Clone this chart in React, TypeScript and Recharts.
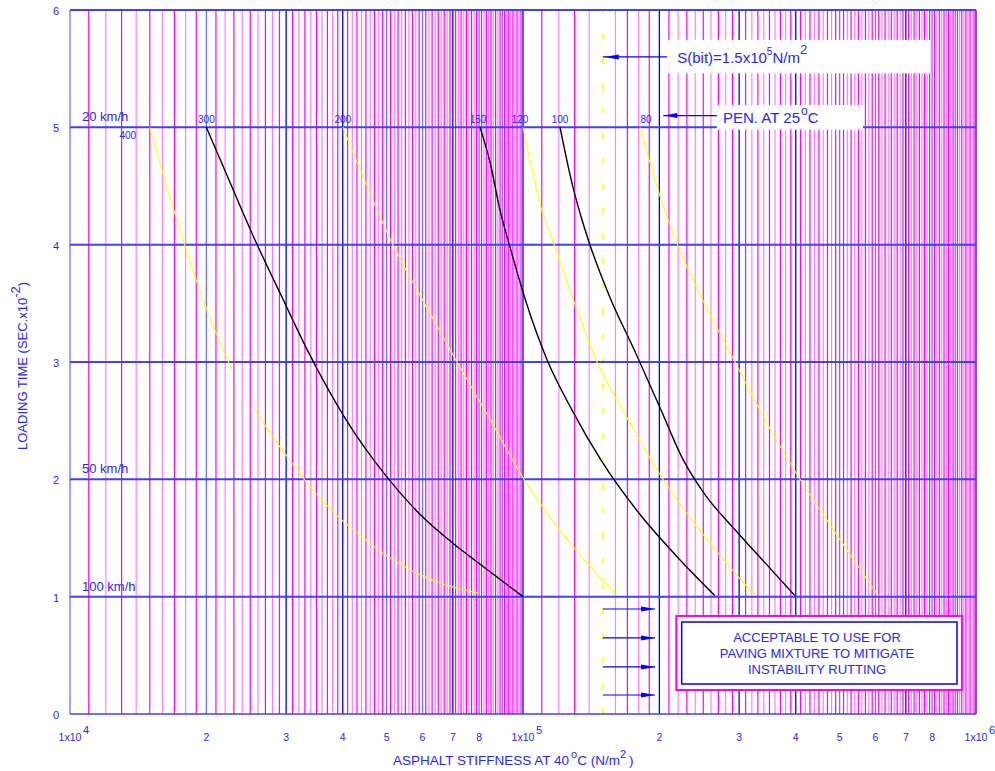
import React from "react"
import { ComposedChart, Line, XAxis, YAxis, ReferenceLine, ReferenceArea, ReferenceDot } from "recharts"

const FONT = '"Liberation Sans", Arial, Helvetica, sans-serif'
const TEXT_BLUE = "#2626ff"
const GRID_BLUE = "#0000ff"
const GRID_BLUE_LIGHT = "#7373ff"
const H_BLUE = "#3f3fff"
const MAGENTA = "#ff00ff"
const PINK = "#ff80ff"
const YELLOW = "#ffff00"

type Row = [number, number]

// stiffness (N/m2) vs loading time (sec x 10^-2) for each penetration grade
const pen400Upper: Row[] = [[1.5e4, 5.0], [1.75e4, 4.12], [1.98e4, 3.5], [2.28e4, 2.93]]
const pen400Lower: Row[] = [
  [2.51e4, 2.65], [2.76e4, 2.4], [3.06e4, 2.16], [3.47e4, 1.89], [3.94e4, 1.67],
  [4.47e4, 1.49], [5.04e4, 1.34], [5.63e4, 1.23], [6.65e4, 1.11], [7.96e4, 1.03],
]
const pen300: Row[] = [
  [2.0e4, 5.0], [2.256e4, 4.53], [2.561e4, 4.04], [2.94e4, 3.55], [3.353e4, 3.09], [4.05e4, 2.52],
  [4.96e4, 2.04], [5.93e4, 1.7], [7.08e4, 1.44], [7.83e4, 1.31], [1.0e5, 1.0],
]
const pen200: Row[] = [
  [4.0e4, 5.0], [4.37e4, 4.64], [5.16e4, 4.0], [6.08e4, 3.49], [7.15e4, 3.0],
  [8.46e4, 2.51], [1.005e5, 2.0], [1.238e5, 1.51], [1.613e5, 1.01],
]
const pen150: Row[] = [
  [8.04e4, 5.0], [8.46e4, 4.7], [8.89e4, 4.3], [9.36e4, 3.98], [1.02e5, 3.49], [1.13e5, 3.02],
  [1.283e5, 2.59], [1.494e5, 2.15], [1.813e5, 1.7], [2.165e5, 1.36], [2.65e5, 1.01],
]
const pen120: Row[] = [
  [1.0e5, 5.0], [1.09e5, 4.35], [1.177e5, 3.98], [1.302e5, 3.49], [1.457e5, 3.0],
  [1.705e5, 2.51], [2.037e5, 2.0], [2.522e5, 1.51], [3.25e5, 1.01],
]
const pen100: Row[] = [
  [1.207e5, 5.0], [1.289e5, 4.49], [1.336e5, 4.27], [1.405e5, 4.0], [1.556e5, 3.55], [1.767e5, 3.09],
  [2.007e5, 2.61], [2.255e5, 2.17], [2.522e5, 1.87], [2.938e5, 1.57], [3.42e5, 1.29], [3.98e5, 1.01],
]
const pen80: Row[] = [
  [1.813e5, 5.0], [1.907e5, 4.7], [2.027e5, 4.36], [2.199e5, 3.99], [2.522e5, 3.49],
  [2.938e5, 3.0], [3.42e5, 2.51], [4.088e5, 2.0], [4.96e5, 1.51], [6.076e5, 1.01],
]

const curves = [
  { id: "400a", label: "400", color: YELLOW, width: 1.1, rows: pen400Upper, dx: -22, dy: 12 },
  { id: "400b", label: "", color: YELLOW, width: 1.1, rows: pen400Lower, dx: 0, dy: 0 },
  { id: "300", label: "300", color: "#000", width: 1.4, rows: pen300, dx: 0, dy: -4 },
  { id: "200", label: "200", color: YELLOW, width: 1.1, rows: pen200, dx: 0, dy: -4 },
  { id: "150", label: "150", color: "#000", width: 1.4, rows: pen150, dx: -2, dy: -4 },
  { id: "120", label: "120", color: YELLOW, width: 1.1, rows: pen120, dx: -3, dy: -4 },
  { id: "100", label: "100", color: "#000", width: 1.4, rows: pen100, dx: 0, dy: -4 },
  { id: "80", label: "80", color: YELLOW, width: 1.1, rows: pen80, dx: 6, dy: -4 },
]

const xTicks = [1e4, 2e4, 3e4, 4e4, 5e4, 6e4, 7e4, 8e4, 1e5, 2e5, 3e5, 4e5, 5e5, 6e5, 7e5, 8e5, 1e6]
const yTicks = [0, 1, 2, 3, 4, 5, 6]
const speedLabels = [
  { text: "20 km/h", y: 5 },
  { text: "50 km/h", y: 2 },
  { text: "100 km/h", y: 1 },
]
const SPEED_LABEL_X = 1.063e4
const S_BIT = 1.5e5

const boxText = ["ACCEPTABLE TO USE FOR", "PAVING MIXTURE TO MITIGATE", "INSTABILITY RUTTING"]
const boxTextY = [0.614, 0.477, 0.341]
const rightArrowY = [0.895, 0.648, 0.401, 0.162]

// log grid: tenths inside each decade, integer multiples in blue
const decades = [1e4, 1e5]
const minorGrid: { v: number; strong: boolean }[] = []
const majorGrid: { v: number; strong: boolean }[] = [
  { v: 1e4, strong: false }, { v: 1e5, strong: true }, { v: 1e6, strong: true },
]
decades.forEach((d, di) => {
  for (let t = 11; t < 100; t++) {
    const v = (d * t) / 10
    if (t % 10 === 0) {
      const m = t / 10
      majorGrid.push({ v, strong: [3, 4, 7].includes(m) || (di === 1 && m === 2) })
    } else if (v !== S_BIT) {
      minorGrid.push({ v, strong: t % 2 === 1 })
    }
  }
})

const toPts = (rows: Row[]) => rows.map(([x, y]) => ({ x, y }))

const XTick = (props: any) => {
  const { x, y, payload } = props
  const v = payload.value as number
  const exp = Math.round(Math.log10(v))
  const common = { fill: TEXT_BLUE, fontFamily: FONT }
  if (Math.abs(v - 10 ** exp) < 1e-6 * v) {
    return (
      <g>
        <text x={x} y={y + 27} textAnchor="middle" fontSize={10.5} {...common}>1x10</text>
        <text x={x + 16} y={y + 20} textAnchor="middle" fontSize={11} {...common}>{exp}</text>
      </g>
    )
  }
  const lead = Math.round(v / 10 ** Math.floor(Math.log10(v)))
  return <text x={x} y={y + 27} textAnchor="middle" fontSize={10.5} {...common}>{lead}</text>
}

const YTick = (props: any) => {
  const { x, y, payload } = props
  return (
    <text x={x - 14} y={y + 5} textAnchor="middle" fontSize={11} fill={TEXT_BLUE} fontFamily={FONT}>
      {payload.value}
    </text>
  )
}

const XTitle = (props: any) => {
  const vb = props.viewBox
  return (
    <text x={vb.x + 323} y={vb.y + 51} fontSize={13.5} fill={TEXT_BLUE} fontFamily={FONT}>
      ASPHALT STIFFNESS AT 40
      <tspan dx={2} dy={-7} fontSize={11}>o</tspan>
      <tspan dy={7}>C (N/m</tspan>
      <tspan dy={-7} fontSize={11}>2</tspan>
      <tspan dx={3} dy={7}>)</tspan>
    </text>
  )
}

const YTitle = (props: any) => {
  const vb = props.viewBox
  return (
    <text
      transform={`translate(${vb.x + 27},${vb.y + 440}) rotate(-90)`}
      fontSize={13}
      fill={TEXT_BLUE}
      fontFamily={FONT}
    >
      LOADING TIME (SEC.x10
      <tspan dy={-7} fontSize={13}>-2</tspan>
      <tspan dy={7}>)</tspan>
    </text>
  )
}

const ArrowHead = ({ cx, cy, dir }: { cx: number; cy: number; dir: 1 | -1 }) => (
  <polygon
    points={`${cx},${cy} ${cx - dir * 14},${cy - 2.5} ${cx - dir * 14},${cy + 2.5}`}
    fill={GRID_BLUE}
  />
)

export default function App() {
  return (
    <div style={{ position: "absolute", left: 0, top: 0, background: "#fff" }}>
      <ComposedChart width={995} height={771} margin={{ top: 10, right: 19, bottom: 0, left: 0 }}>
        <XAxis
          type="number"
          dataKey="x"
          scale="log"
          domain={[1e4, 1e6]}
          ticks={xTicks}
          interval={0}
          allowDataOverflow
          height={57}
          tickSize={0}
          tickMargin={0}
          axisLine={false}
          tickLine={false}
          tick={<XTick />}
          label={{ content: (p: any) => <XTitle {...p} /> }}
        />
        <YAxis
          type="number"
          dataKey="y"
          domain={[0, 6]}
          ticks={yTicks}
          interval={0}
          width={70}
          tickSize={0}
          tickMargin={0}
          axisLine={false}
          tickLine={false}
          tick={<YTick />}
          label={{ content: (p: any) => <YTitle {...p} /> }}
        />

        {minorGrid.map((g) => (
          <ReferenceLine key={`m${g.v}`} x={g.v} stroke={g.strong ? MAGENTA : PINK} strokeWidth={1.2} zIndex={-20} />
        ))}
        {majorGrid.map((g) => (
          <ReferenceLine key={`M${g.v}`} x={g.v} stroke={g.strong ? GRID_BLUE : GRID_BLUE_LIGHT} strokeWidth={1.3} zIndex={-15} />
        ))}
        <ReferenceLine x={S_BIT} stroke={YELLOW} strokeWidth={1.2} strokeDasharray="6 19" zIndex={-15} />
        {yTicks.map((t) => (
          <ReferenceLine key={`h${t}`} y={t} stroke={H_BLUE} strokeWidth={t === 0 ? 1.5 : 2} zIndex={-10} />
        ))}

        {curves.map((c) => (
          <Line
            key={c.id}
            data={toPts(c.rows)}
            dataKey="y"
            type="monotone"
            stroke={c.color}
            strokeWidth={c.width}
            dot={false}
            activeDot={false}
            isAnimationActive={false}
          />
        ))}

        {/* pen. grade labels at the top of each curve */}
        {curves.filter((c) => c.label).map((c) => (
          <ReferenceDot
            key={`l${c.id}`}
            x={c.rows[0][0]}
            y={c.rows[0][1]}
            r={0}
            ifOverflow="visible"
            zIndex={800}
            shape={(p: any) => (
              <text x={p.cx + c.dx} y={p.cy + c.dy} textAnchor="middle" fontSize={10} fill={TEXT_BLUE} fontFamily={FONT}>
                {c.label}
              </text>
            )}
          />
        ))}
        {speedLabels.map((s) => (
          <ReferenceDot
            key={s.text}
            x={SPEED_LABEL_X}
            y={s.y}
            r={0}
            ifOverflow="visible"
            zIndex={800}
            shape={(p: any) => (
              <text x={p.cx} y={p.cy - 6} fontSize={13} fill={TEXT_BLUE} fontFamily={FONT}>
                {s.text}
              </text>
            )}
          />
        ))}

        {/* S(bit) callout */}
        <ReferenceArea x1={2.09e5} x2={7.92e5} y1={5.46} y2={5.745} fill="#fff" fillOpacity={1} stroke="none" zIndex={600} />
        <ReferenceLine segment={[{ x: S_BIT, y: 5.6 }, { x: 2.08e5, y: 5.6 }]} stroke={GRID_BLUE} strokeWidth={1.2} zIndex={650} />
        <ReferenceDot x={S_BIT} y={5.6} r={0} zIndex={650} shape={(p: any) => <ArrowHead cx={p.cx + 2} cy={p.cy} dir={-1} />} />
        <ReferenceDot
          x={2.19e5}
          y={5.548}
          r={0}
          zIndex={800}
          shape={(p: any) => (
            <text x={p.cx} y={p.cy} fontSize={15} fill={TEXT_BLUE} fontFamily={FONT}>
              S(bit)=1.5x10
              <tspan dy={-8} fontSize={10}>5</tspan>
              <tspan dy={8}>N/m</tspan>
              <tspan dy={-9} fontSize={13}>2</tspan>
            </text>
          )}
        />

        {/* PEN. AT 25°C callout */}
        <ReferenceArea x1={2.68e5} x2={5.63e5} y1={4.98} y2={5.19} fill="#fff" fillOpacity={1} stroke="none" zIndex={600} />
        <ReferenceLine segment={[{ x: 2.04e5, y: 5.1 }, { x: 2.68e5, y: 5.1 }]} stroke={GRID_BLUE} strokeWidth={1.2} zIndex={650} />
        <ReferenceDot x={2.04e5} y={5.1} r={0} zIndex={650} shape={(p: any) => <ArrowHead cx={p.cx} cy={p.cy} dir={-1} />} />
        <ReferenceDot
          x={2.764e5}
          y={5.037}
          r={0}
          zIndex={800}
          shape={(p: any) => (
            <text x={p.cx} y={p.cy} fontSize={15} fill={TEXT_BLUE} fontFamily={FONT}>
              PEN. AT 25
              <tspan dx={1} dy={-8} fontSize={12}>o</tspan>
              <tspan dy={8}>C</tspan>
            </text>
          )}
        />

        {/* acceptable zone box with arrows */}
        {rightArrowY.map((y) => (
          <ReferenceLine key={`a${y}`} segment={[{ x: S_BIT, y }, { x: 1.956e5, y }]} stroke={GRID_BLUE} strokeWidth={1.2} zIndex={650} />
        ))}
        {rightArrowY.map((y) => (
          <ReferenceDot key={`ah${y}`} x={1.956e5} y={y} r={0} zIndex={650} shape={(p: any) => <ArrowHead cx={p.cx} cy={p.cy} dir={1} />} />
        ))}
        <ReferenceArea x1={2.18e5} x2={9.31e5} y1={0.2045} y2={0.835} fill="#fff" fillOpacity={1} stroke={MAGENTA} strokeWidth={2} zIndex={600} />
        <ReferenceArea x1={2.24e5} x2={9.08e5} y1={0.2557} y2={0.784} fill="#fff" fillOpacity={1} stroke={GRID_BLUE} strokeWidth={1.5} zIndex={610} />
        {boxText.map((t, i) => (
          <ReferenceDot
            key={t}
            x={4.457e5}
            y={boxTextY[i]}
            r={0}
            zIndex={800}
            shape={(p: any) => (
              <text x={p.cx} y={p.cy} textAnchor="middle" fontSize={13} fill={TEXT_BLUE} fontFamily={FONT}>
                {t}
              </text>
            )}
          />
        ))}
      </ComposedChart>
    </div>
  )
}
